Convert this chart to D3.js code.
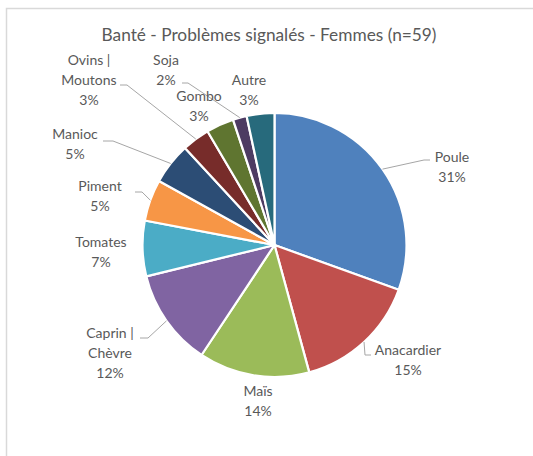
<!DOCTYPE html>
<html><head><meta charset="utf-8">
<script src="https://cdn.jsdelivr.net/npm/d3@7"></script>
<style>
html,body{margin:0;padding:0;background:#fff;}
svg text{font-family:Lato,"Open Sans",sans-serif;fill:#595959;}
</style></head>
<body>
<svg id="c" width="533" height="456"></svg>
<script>
const categories = ["Poule","Anacardier","Maïs","Caprin | Chèvre","Tomates","Piment","Manioc","Ovins | Moutons","Gombo","Soja","Autre"];
const counts = [18, 9, 8, 7, 4, 3, 3, 2, 2, 1, 2];
const percentLabels = ["31%","15%","14%","12%","7%","5%","5%","3%","3%","2%","3%"];
const labelLines = [["Poule"],["Anacardier"],["Maïs"],["Caprin |","Chèvre"],["Tomates"],["Piment"],["Manioc"],["Ovins |","Moutons"],["Gombo"],["Soja"],["Autre"]];
const colors = ["#4F81BD","#C0504D","#9BBB59","#8064A2","#4BACC6","#F79646","#2C4D75","#772C2A","#5F7530","#4D3B62","#276A7C"];

// layout: label centre x, first line y; optional leader elbow/end
const layout = [
  {x:452, y:157, elbow:[424,160], end:[430,160]},
  {x:408, y:350, elbow:[365,355], end:[371,355]},
  {x:258, y:391},
  {x:110, y:333, elbow:[148,338], end:[140,338]},
  {x:101, y:242},
  {x:100, y:186, elbow:[142,192], end:[135,192]},
  {x:75,  y:134, elbow:[113,141], end:[103,141]},
  {x:89,  y:60,  elbow:[127,85],  end:[120,85]},
  {x:199, y:96},
  {x:166, y:60,  elbow:[188,83],  end:[182,83]},
  {x:249, y:80}
];

const svg = d3.select("#c");
// frame
svg.append("path").attr("d","M6.5,456 L6.5,8.5 L533,8.5").attr("fill","none").attr("stroke","#d9d9d9").attr("stroke-width",1.5);

svg.append("text").attr("x",269).attr("y",41).attr("text-anchor","middle")
  .style("font-size","17.3px").text("Banté - Problèmes signalés  - Femmes (n=59)");

const cx = 274.5, cy = 245, r = 132;
const pie = d3.pie().sort(null).value(d=>d)(counts);
const arc = d3.arc().innerRadius(0).outerRadius(r);
const g = svg.append("g").attr("transform",`translate(${cx},${cy})`);
g.selectAll("path").data(pie).join("path")
  .attr("d",arc).attr("fill",(d,i)=>colors[i])
  .attr("stroke","#fff").attr("stroke-width",2.2).attr("stroke-linejoin","round");

// leader lines
pie.forEach((d,i)=>{
  const L = layout[i];
  if(!L.elbow) return;
  const a = (d.startAngle+d.endAngle)/2;
  const sx = cx + r*Math.sin(a), sy = cy - r*Math.cos(a);
  svg.append("polyline").attr("points",`${sx},${sy} ${L.elbow[0]},${L.elbow[1]} ${L.end[0]},${L.end[1]}`)
    .attr("fill","none").attr("stroke","#a6a6a6").attr("stroke-width",1);
});

// labels
pie.forEach((d,i)=>{
  const L = layout[i];
  const lines = labelLines[i].concat([percentLabels[i]]);
  const t = svg.append("text").attr("text-anchor","middle").style("font-size","14px");
  lines.forEach((s,k)=>{
    t.append("tspan").attr("x",L.x).attr("y",L.y + 5 + k*20).text(s);
  });
});
</script>
</body></html>
